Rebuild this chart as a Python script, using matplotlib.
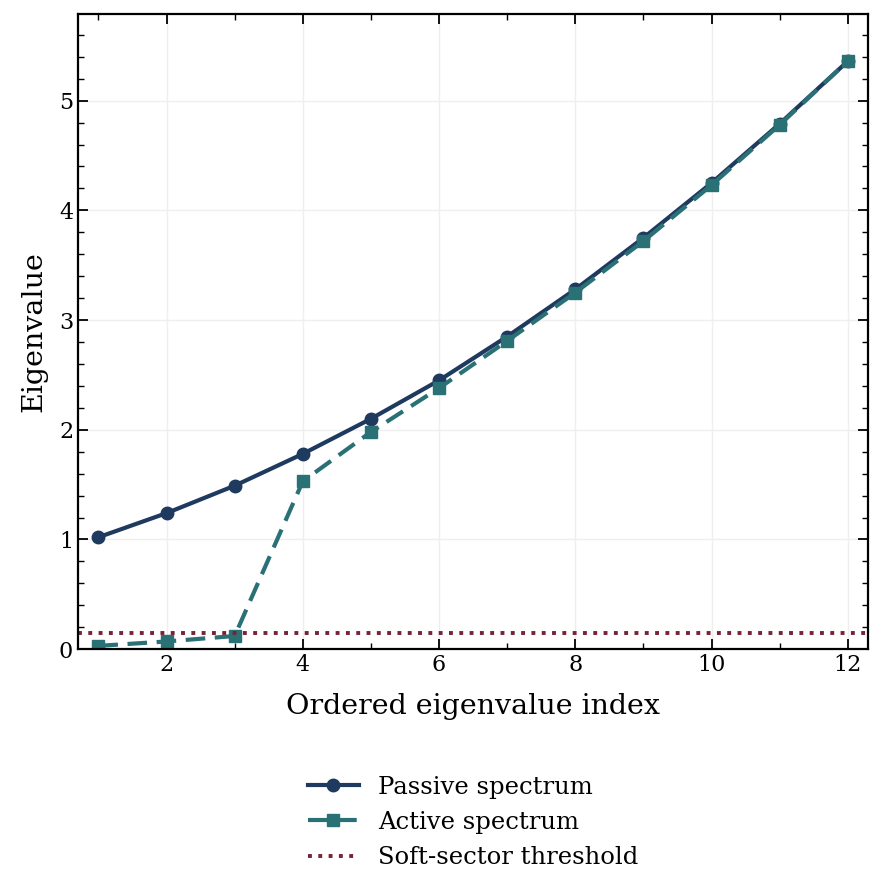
import numpy as np
import matplotlib
matplotlib.use("Agg")
import matplotlib.pyplot as plt
from matplotlib.ticker import AutoMinorLocator

plt.rcParams['font.family'] = ['DejaVu Serif']

index = np.arange(1, 13)
passiveSpectrum = [1.02, 1.24, 1.49, 1.78, 2.10, 2.45, 2.85, 3.28, 3.75, 4.25, 4.79, 5.36]
activeSpectrum = [0.03, 0.07, 0.12, 1.53, 1.98, 2.38, 2.81, 3.25, 3.72, 4.23, 4.78, 5.36]
softThreshold = 0.15

fig, ax = plt.subplots(figsize=(8.86, 8.82), dpi=100)
fig.subplots_adjust(left=0.088, right=0.98, top=0.984, bottom=0.264)

ax.plot(index, passiveSpectrum, color='#1f3a5f', marker='o', markersize=9,
        linewidth=3, label='Passive spectrum')
ax.plot(index, activeSpectrum, color='#2a7176', marker='s', markersize=9,
        linewidth=3, linestyle=(0, (4.7, 2.3)), label='Active spectrum')
ax.axhline(softThreshold, color='#762337', linestyle=':', linewidth=2.8,
           label='Soft-sector threshold')

ax.set_xlim(0.7, 12.3)
ax.set_ylim(0, max(passiveSpectrum) * 1.08)
ax.set_xticks([2, 4, 6, 8, 10, 12])
ax.set_yticks([0, 1, 2, 3, 4, 5])
ax.xaxis.set_minor_locator(AutoMinorLocator(2))
ax.yaxis.set_minor_locator(AutoMinorLocator(5))
ax.tick_params(which='both', direction='in', top=True, right=True, labelsize=16)
ax.tick_params(which='major', length=7, width=1.3)
ax.tick_params(which='minor', length=4, width=1.0)
for spine in ax.spines.values():
    spine.set_linewidth(1.6)
ax.grid(True, color='#efefef', linewidth=1)
ax.set_axisbelow(True)

ax.set_xlabel('Ordered eigenvalue index', fontsize=20.5, labelpad=12)
ax.set_ylabel('Eigenvalue', fontsize=20.5, labelpad=8)

ax.legend(loc='upper center', bbox_to_anchor=(0.5, -0.165), frameon=False,
          fontsize=17.5, handlelength=2.1, labelspacing=0.5)

fig.savefig('out.png', dpi=100)
